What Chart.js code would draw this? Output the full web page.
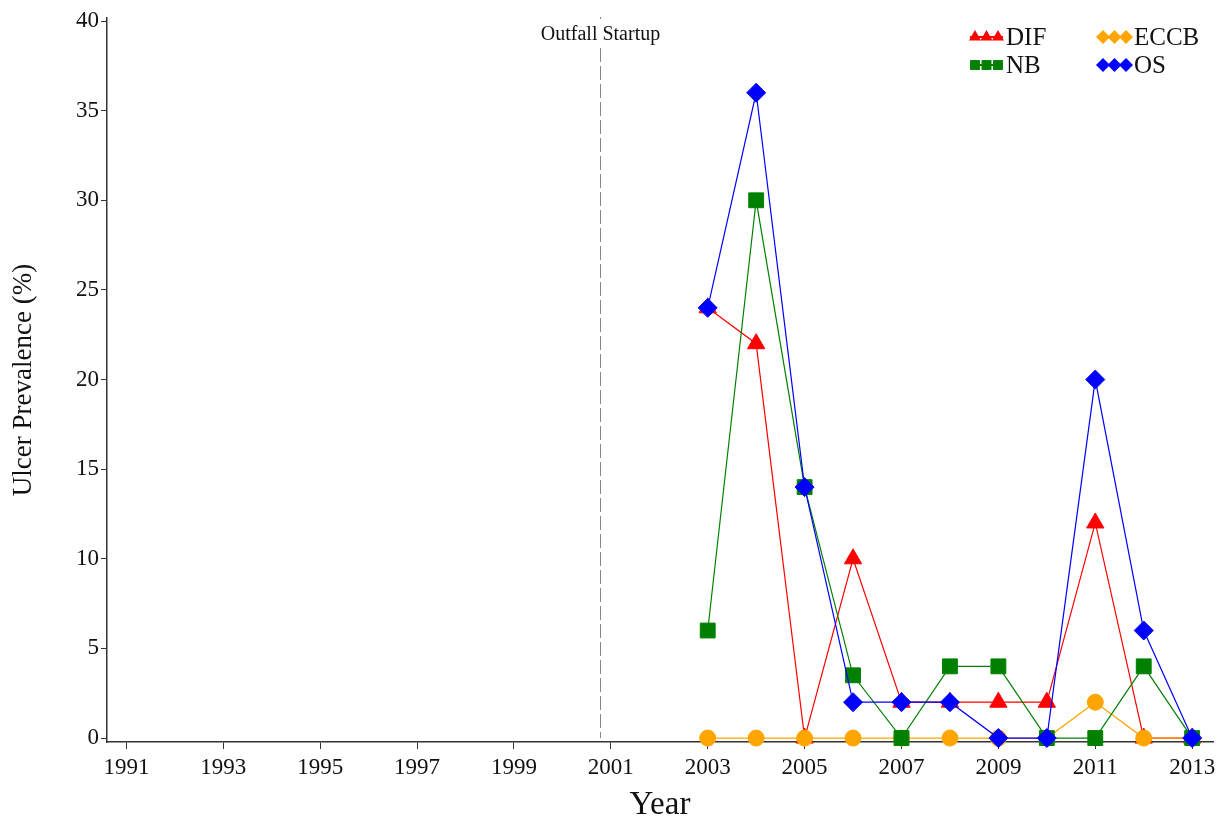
<!DOCTYPE html>
<html>
<head>
<meta charset="utf-8">
<script src="https://cdn.jsdelivr.net/npm/chart.js@4/dist/chart.umd.min.js"></script>
<style>
  html, body { margin: 0; padding: 0; background: #fff; }
  #wrap { width: 1228px; height: 821px; }
</style>
</head>
<body>
<div id="wrap"><canvas id="chart" width="1228" height="821"></canvas></div>
<script>
/* data */
const years   = [2003, 2004, 2005, 2006, 2007, 2008, 2009, 2010, 2011, 2012, 2013];
const difVals  = [24, 22, 0, 10, 2, 2, 2, 2, 12, 0, 0];
const eccbVals = [0, 0, 0, 0, 0, 0, 0, 0, 2, 0, 0];
const nbVals   = [6, 30, 14, 3.5, 0, 4, 4, 0, 0, 4, 0];
const osVals   = [24, 36, 14, 2, 2, 2, 0, 0, 20, 6, 0];
const xTicks = [1991, 1993, 1995, 1997, 1999, 2001, 2003, 2005, 2007, 2009, 2011, 2013];
const yTicks = [0, 5, 10, 15, 20, 25, 30, 35, 40];
const startupYear = 2000.77;
const startupLabel = 'Outfall Startup';

const SERIF = '"Liberation Serif", "DejaVu Serif", serif';
const toXY = vals => years.map((y, i) => ({ x: y, y: vals[i] }));

/* draw order: DIF bottom, then ECCB, NB, OS on top */
const series = [
  { label: 'DIF',  data: toXY(difVals),  color: '#ff0000', style: 'triangle', r: 10, order: 4, legendStyle: 'triangle' },
  { label: 'ECCB', data: toXY(eccbVals), color: '#ffa500', style: 'circle',   r: 8,  order: 3, legendStyle: 'rectRot' },
  { label: 'NB',   data: toXY(nbVals),   color: '#008000', style: 'rect',     r: 10.5, order: 2, legendStyle: 'rect' },
  { label: 'OS',   data: toXY(osVals),   color: '#0000ff', style: 'rectRot',  r: 9.5, order: 1, legendStyle: 'rectRot' },
];

/* vertical dashed startup line + label */
const startupPlugin = {
  id: 'startup',
  afterDatasetsDraw(chart) {
    const { ctx, chartArea, scales } = chart;
    const x = Math.round(scales.x.getPixelForValue(startupYear)) + 0.5;
    ctx.save();
    ctx.strokeStyle = '#888';
    ctx.lineWidth = 1;
    ctx.setLineDash([14, 4]);
    ctx.beginPath();
    ctx.moveTo(x, 48); ctx.lineTo(x, scales.y.getPixelForValue(0));
    ctx.stroke();
    ctx.setLineDash([]);
    ctx.beginPath(); ctx.moveTo(x, chartArea.top - 1); ctx.lineTo(x, chartArea.top + 1); ctx.stroke();
    ctx.fillStyle = '#111';
    ctx.font = '20px ' + SERIF;
    ctx.textAlign = 'center';
    ctx.textBaseline = 'middle';
    ctx.fillText(startupLabel, x, 35);
    ctx.restore();
  }
};

/* two-column legend: line with three markers */
const legendPlugin = {
  id: 'lineLegend',
  afterDraw(chart) {
    const { ctx } = chart;
    const slots = [[970, 37], [1098, 37], [970, 65], [1098, 65]];
    ctx.save();
    series.forEach((s, i) => {
      const [x0, y] = slots[i];
      ctx.strokeStyle = s.color;
      ctx.fillStyle = s.color;
      ctx.lineWidth = 2;
      ctx.beginPath(); ctx.moveTo(x0, y); ctx.lineTo(x0 + 33, y); ctx.stroke();
      [x0 + 5, x0 + 16.5, x0 + 28].forEach(px => {
        Chart.helpers.drawPoint(ctx, { pointStyle: s.legendStyle, radius: 7, rotation: 0, borderWidth: 0 }, px, y);
      });
      ctx.fillStyle = '#111';
      ctx.font = '25px ' + SERIF;
      ctx.textAlign = 'left';
      ctx.textBaseline = 'middle';
      ctx.fillText(s.label, x0 + 36, y + 1);
    });
    ctx.restore();
  }
};

new Chart(document.getElementById('chart'), {
  type: 'line',
  data: {
    datasets: series.map(s => ({
      label: s.label,
      data: s.data,
      order: s.order,
      borderColor: s.color,
      backgroundColor: s.color,
      pointBackgroundColor: s.color,
      pointBorderColor: s.color,
      pointBorderWidth: 1,
      pointStyle: s.style,
      pointRadius: s.r,
      pointHoverRadius: s.r,
      borderWidth: 1.2,
      tension: 0,
      clip: false,
    })),
  },
  options: {
    responsive: false,
    animation: false,
    layout: { padding: { top: 18, right: 15, left: 0, bottom: 0 } },
    plugins: { legend: { display: false }, tooltip: { enabled: false } },
    scales: {
      x: {
        type: 'linear',
        min: 1990.6,
        max: 2013.43,
        afterBuildTicks: ax => { ax.ticks = xTicks.map(v => ({ value: v })); },
        afterFit: ax => { ax.height = 79; },
        grid: { drawOnChartArea: false, drawTicks: true, tickLength: 7, color: '#333', lineWidth: 1 },
        border: { display: true, color: '#333', width: 1.5 },
        ticks: { color: '#111', font: { family: SERIF, size: 23 }, padding: 5, maxRotation: 0, autoSkip: false,
                 callback: v => String(v) },
        title: { display: true, text: 'Year', color: '#111', font: { family: SERIF, size: 33 }, padding: { top: 0, bottom: -4 } },
      },
      y: {
        min: -0.22,
        max: 40.17,
        afterBuildTicks: ax => { ax.ticks = yTicks.map(v => ({ value: v })); },
        afterFit: ax => { ax.width = 107; },
        grid: { drawOnChartArea: false, drawTicks: true, tickLength: 6, color: '#333', lineWidth: 1 },
        border: { display: true, color: '#333', width: 1.5 },
        ticks: { color: '#111', font: { family: SERIF, size: 23 }, padding: 2, autoSkip: false },
        title: { display: true, text: 'Ulcer Prevalence (%)', color: '#111', font: { family: SERIF, size: 27 }, padding: { top: 8, bottom: 0 } },
      },
    },
  },
  plugins: [startupPlugin, legendPlugin],
});
</script>
</body>
</html>
